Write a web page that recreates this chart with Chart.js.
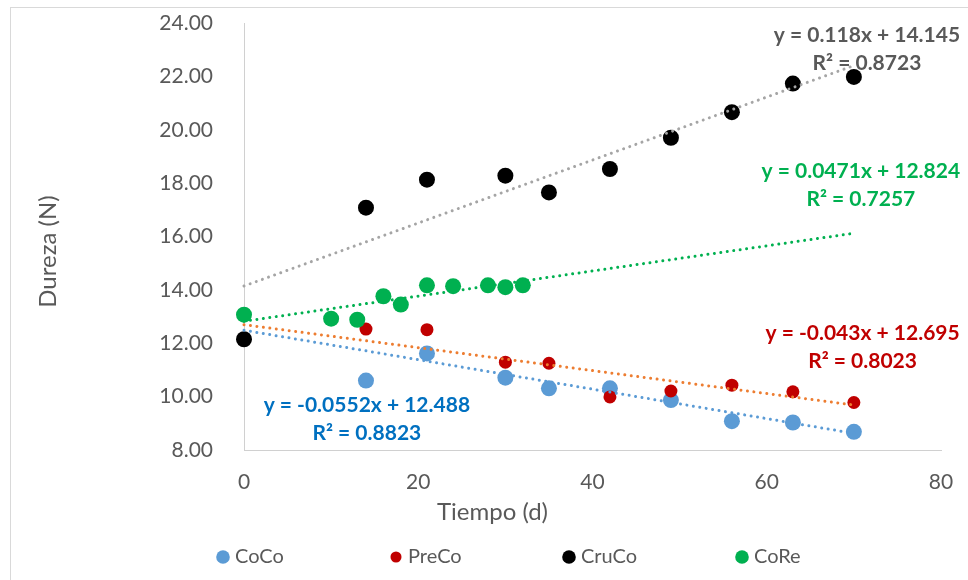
<!DOCTYPE html>
<html>
<head>
<meta charset="utf-8">
<script src="https://cdn.jsdelivr.net/npm/chart.js@4.4.0/dist/chart.umd.min.js"></script>
<style>
  html, body { margin: 0; padding: 0; background: #ffffff; overflow: hidden; }
  #frame { position: absolute; left: 10px; top: 7px; width: 1000px; height: 1000px; border: 1px solid #d9d9d9; box-sizing: border-box; }
  #wrap { position: absolute; left: 0; top: 0; width: 968px; height: 580px; }
</style>
</head>
<body>
<div id="frame"></div>
<div id="wrap"><canvas id="c" width="968" height="580"></canvas></div>
<script>
// ---- data ----
const seriesNames = ['CoCo', 'PreCo', 'CruCo', 'CoRe'];

const cocoDays   = [14, 21, 30, 35, 42, 49, 56, 63, 70];
const cocoValues = [10.60, 11.62, 10.71, 10.31, 10.31, 9.87, 9.08, 9.03, 8.68];

const precoDays   = [14, 21, 30, 35, 42, 49, 56, 63, 70];
const precoValues = [12.53, 12.51, 11.29, 11.25, 9.99, 10.21, 10.43, 10.18, 9.78];

const crucoDays   = [0, 14, 21, 30, 35, 42, 49, 56, 63, 70];
const crucoValues = [12.15, 17.08, 18.13, 18.28, 17.65, 18.53, 19.70, 20.66, 21.73, 21.98];

const coreDays   = [0, 10, 13, 16, 18, 21, 24, 28, 30, 32];
const coreValues = [13.07, 12.92, 12.88, 13.76, 13.45, 14.17, 14.14, 14.17, 14.10, 14.17];

// linear trendlines (values at day 0 and day 70, from the printed equations)
const trendDays   = [0, 70];
const cocoTrend   = [12.488, 8.624];
const precoTrend  = [12.695, 9.685];
const crucoTrend  = [14.145, 22.405];
const coreTrend   = [12.824, 16.121];

const cocoEquation  = ['y = -0.0552x + 12.488', 'R² = 0.8823'];
const precoEquation = ['y = -0.043x + 12.695', 'R² = 0.8023'];
const crucoEquation = ['y = 0.118x + 14.145', 'R² = 0.8723'];
const coreEquation  = ['y = 0.0471x + 12.824', 'R² = 0.7257'];

const yTickMin = 8, yTickMax = 24, yTickStep = 2;
const xTickMin = 0, xTickMax = 80, xTickStep = 20;

const xTitleText = 'Tiempo (d)';
const yTitleText = 'Dureza (N)';

// ---- styling ----
const FONT = 'Lato';
const TXT = '#595959';
const colors = {
  CoCo: '#5B9BD5', PreCo: '#C00000', CruCo: '#000000', CoRe: '#00B050'
};
const trendColors = {
  CoCo: '#5B9BD5', PreCo: '#ED7D31', CruCo: '#A5A5A5', CoRe: '#00B050'
};
const eqColors = {
  CoCo: '#0070C0', PreCo: '#C00000', CruCo: '#595959', CoRe: '#00B050'
};
const radii = { CoCo: 8, PreCo: 6.5, CruCo: 8, CoRe: 8 };

function pts(xs, ys) { return xs.map((x, i) => ({ x: x, y: ys[i] })); }

const scatterSets = [
  { name: 'CoCo',  xs: cocoDays,  ys: cocoValues,  order: 4 },
  { name: 'PreCo', xs: precoDays, ys: precoValues, order: 3 },
  { name: 'CruCo', xs: crucoDays, ys: crucoValues, order: 2 },
  { name: 'CoRe',  xs: coreDays,  ys: coreValues,  order: 1 }
].map(s => ({
  label: s.name,
  data: pts(s.xs, s.ys),
  backgroundColor: colors[s.name],
  borderColor: colors[s.name],
  borderWidth: 0,
  pointRadius: radii[s.name],
  pointHoverRadius: radii[s.name],
  showLine: false,
  clip: false,
  order: s.order
}));

const trendSets = [
  { name: 'CoCo',  ys: cocoTrend },
  { name: 'PreCo', ys: precoTrend },
  { name: 'CruCo', ys: crucoTrend },
  { name: 'CoRe',  ys: coreTrend }
].map(s => ({
  label: s.name + ' trend',
  data: pts(trendDays, s.ys),
  borderColor: trendColors[s.name],
  backgroundColor: trendColors[s.name],
  borderWidth: 3,
  borderDash: [0.01, 6.5],
  borderCapStyle: 'round',
  pointRadius: 0,
  showLine: true,
  fill: false,
  clip: false,
  order: 0
}));

// equation label anchors (data coordinates of first line centre)
const eqPlacement = [
  { name: 'CruCo', text: crucoEquation, x: 71.5, y: 23.55 },
  { name: 'CoRe',  text: coreEquation,  x: 70.8, y: 18.43 },
  { name: 'PreCo', text: precoEquation, x: 71.0, y: 12.36 },
  { name: 'CoCo',  text: cocoEquation,  x: 14.1, y: 9.66 }
];

const equationPlugin = {
  id: 'equations',
  afterDatasetsDraw(chart) {
    const ctx = chart.ctx;
    const xs = chart.scales.x, ys = chart.scales.y;
    ctx.save();
    ctx.font = 'bold 21px ' + FONT;
    ctx.textAlign = 'center';
    ctx.textBaseline = 'middle';
    eqPlacement.forEach(e => {
      const px = xs.getPixelForValue(e.x);
      const py = ys.getPixelForValue(e.y);
      ctx.fillStyle = eqColors[e.name];
      ctx.fillText(e.text[0], px, py);
      ctx.fillText(e.text[1], px, py + 28);
    });
    ctx.restore();
  }
};

const legendPlugin = {
  id: 'bottomLegend',
  afterDraw(chart) {
    const ctx = chart.ctx;
    const startX = 223, slot = 173, y = 557;
    ctx.save();
    ctx.font = '20px ' + FONT;
    ctx.textAlign = 'left';
    ctx.textBaseline = 'middle';
    seriesNames.forEach((n, i) => {
      const cx = startX + i * slot;
      ctx.fillStyle = colors[n];
      ctx.beginPath();
      ctx.ellipse(cx, y, radii[n] * 0.85, radii[n] * 0.85, 0, 0, Math.PI * 2);
      ctx.fill();
      ctx.fillStyle = TXT;
      ctx.fillText(n, cx + 12, y);
    });
    ctx.restore();
  }
};

const titleShiftPlugin = {
  id: 'titleShift',
  afterLayout(chart) {
    const xt = chart.scales.xTitle, yt = chart.scales.yTitle;
    if (xt) { xt.left -= 100; xt.right -= 100; }
    if (yt) { yt.top += 15; yt.bottom += 15; }
  }
};

new Chart(document.getElementById('c'), {
  type: 'scatter',
  data: { datasets: scatterSets.concat(trendSets) },
  options: {
    responsive: false,
    animation: false,
    events: [],
    layout: { padding: { left: 0, top: 23, right: 27, bottom: 53 } },
    plugins: {
      legend: { display: false },
      tooltip: { enabled: false },
      title: { display: false }
    },
    scales: {
      x: {
        type: 'linear',
        position: 'bottom',
        min: xTickMin, max: xTickMax,
        weight: 0,
        grid: { display: false },
        border: { display: true, color: '#d0d0d0', width: 1 },
        ticks: { stepSize: xTickStep, color: TXT, font: { family: FONT, size: 21 }, padding: 12 },
        afterFit(s) { s.height = 50; s.paddingRight = 0; s.paddingLeft = 0; }
      },
      xTitle: {
        type: 'linear',
        axis: 'x',
        position: 'bottom',
        min: 0, max: 1,
        weight: 1,
        grid: { display: false },
        border: { display: false },
        ticks: { display: false },
        title: { display: true, text: xTitleText, color: TXT, font: { family: FONT, size: 24 }, padding: { top: 0, bottom: 0 } },
        afterFit(s) { s.height = 27; }
      },
      y: {
        type: 'linear',
        position: 'left',
        min: yTickMin, max: yTickMax,
        weight: 0,
        grid: { display: false },
        border: { display: true, color: '#d0d0d0', width: 1 },
        ticks: {
          stepSize: yTickStep, color: TXT, font: { family: FONT, size: 21 }, padding: 23,
          callback: v => Number(v).toFixed(2)
        },
        afterFit(s) { s.width = 174; s.paddingTop = 0; s.paddingBottom = 0; }
      },
      yTitle: {
        type: 'linear',
        axis: 'y',
        position: 'left',
        min: 0, max: 1,
        weight: 1,
        grid: { display: false },
        border: { display: false },
        ticks: { display: false },
        title: { display: true, text: yTitleText, color: TXT, font: { family: FONT, size: 24 }, padding: { top: 34, bottom: 0 } },
        afterFit(s) { s.width = 70; }
      }
    }
  },
  plugins: [titleShiftPlugin, equationPlugin, legendPlugin]
});
</script>
</body>
</html>
